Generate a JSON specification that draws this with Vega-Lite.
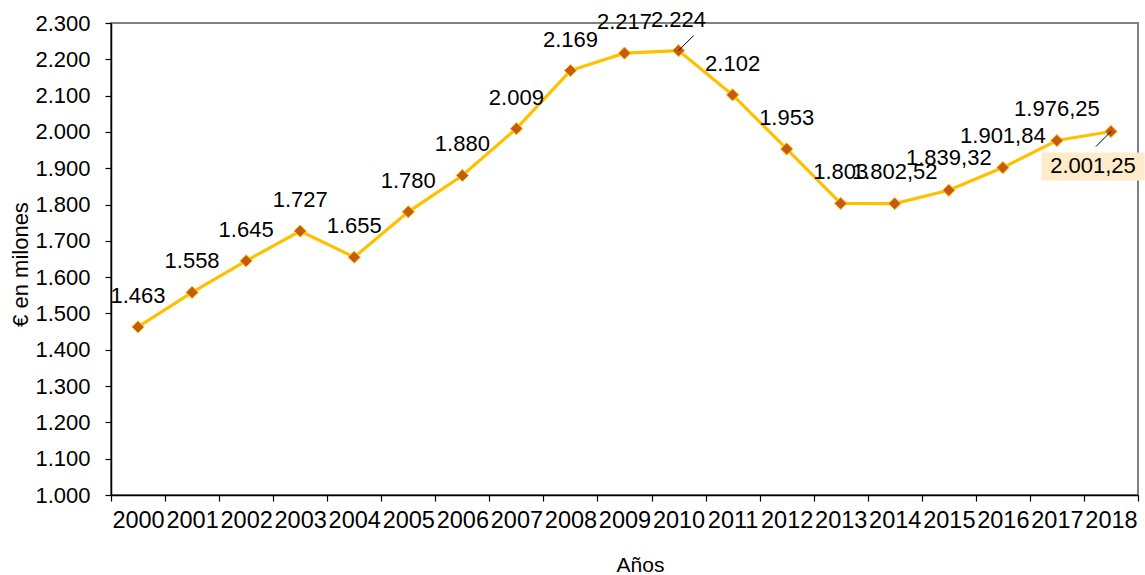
{
  "$schema": "https://vega.github.io/schema/vega-lite/v6.json",
  "autosize": "none",
  "width": 1027,
  "height": 472,
  "padding": {"left": 111, "top": 23, "right": 7, "bottom": 80},
  "background": "white",
  "config": {
    "locale": {"number": {"decimal": ",", "thousands": ".", "grouping": [3], "currency": ["", " €"]}},
    "font": "Liberation Sans",
    "view": {"stroke": "#808080", "strokeWidth": 2},
    "axis": {"grid": false, "domainColor": "#000000", "domainWidth": 1.5, "tickColor": "#000000", "tickWidth": 1.2, "tickSize": 6, "labelFont": "Liberation Sans", "labelFontSize": 22, "labelColor": "#000000", "titleFont": "Liberation Sans", "titleFontSize": 21, "titleFontWeight": "normal", "titleColor": "#000000"}
  },
  "data": {"values": [
    {"year": 2000, "value": 1463},
    {"year": 2001, "value": 1558},
    {"year": 2002, "value": 1645},
    {"year": 2003, "value": 1727},
    {"year": 2004, "value": 1655},
    {"year": 2005, "value": 1780},
    {"year": 2006, "value": 1880},
    {"year": 2007, "value": 2009},
    {"year": 2008, "value": 2169},
    {"year": 2009, "value": 2217},
    {"year": 2010, "value": 2224},
    {"year": 2011, "value": 2102},
    {"year": 2012, "value": 1953},
    {"year": 2013, "value": 1803},
    {"year": 2014, "value": 1802.52},
    {"year": 2015, "value": 1839.32},
    {"year": 2016, "value": 1901.84},
    {"year": 2017, "value": 1976.25},
    {"year": 2018, "value": 2001.25}
  ]},
  "encoding": {
    "x": {"field": "year", "type": "ordinal", "scale": {"paddingInner": 0, "paddingOuter": 0},
      "axis": {"title": "Años", "labelAngle": 0, "labelFontSize": 23.5, "tickBand": "extent", "labelPadding": 7, "titleX": 529, "titleY": 70, "titleBaseline": "middle", "titleAnchor": null}},
    "y": {"field": "value", "type": "quantitative", "scale": {"domain": [1000, 2300], "nice": false, "zero": false},
      "axis": {"title": "€ en milones", "titleFontSize": 22, "values": [1000, 1100, 1200, 1300, 1400, 1500, 1600, 1700, 1800, 1900, 2000, 2100, 2200, 2300], "format": ",.0f", "labelPadding": 15, "titleX": -91, "titleY": 241, "titleBaseline": "middle", "titleAnchor": null}}
  },
  "layer": [
    {"mark": {"type": "line", "color": "#FFC000", "strokeWidth": 3.2}},
    {"mark": {"type": "point", "shape": "diamond", "size": 150, "filled": true, "fill": "#C55A11", "stroke": "#FFC000", "strokeWidth": 1, "opacity": 1}},
    {"transform": [{"filter": "datum.year == 2010"}],
      "mark": {"type": "point", "shape": "M0,0L1,-1", "size": 900, "filled": false, "stroke": "#000000", "strokeWidth": 1, "opacity": 1}},
    {"transform": [{"filter": "datum.year == 2018"}],
      "mark": {"type": "point", "shape": "M0,0L-1,1", "size": 900, "filled": false, "stroke": "#000000", "strokeWidth": 1, "opacity": 1}},
    {"transform": [{"filter": "datum.year == 2018"}],
      "mark": {"type": "point", "shape": "M-1,-0.272L1,-0.272L1,0.272L-1,0.272Z", "size": 10609, "filled": true, "fill": "#FDEBC9", "strokeWidth": 0, "opacity": 1, "xOffset": -18, "yOffset": 35}},
    {"transform": [{"filter": "datum.year <= 2013"}],
      "mark": {"type": "text", "fontSize": 22, "font": "Liberation Sans", "color": "#000000", "baseline": "middle", "align": "center", "dy": -31},
      "encoding": {"text": {"field": "value", "type": "quantitative", "format": ",.0f"}}},
    {"transform": [{"filter": "datum.year >= 2014 && datum.year <= 2017"}],
      "mark": {"type": "text", "fontSize": 22, "font": "Liberation Sans", "color": "#000000", "baseline": "middle", "align": "center", "dy": -32},
      "encoding": {"text": {"field": "value", "type": "quantitative", "format": ",.2f"}}},
    {"transform": [{"filter": "datum.year == 2018"}],
      "mark": {"type": "text", "fontSize": 22, "font": "Liberation Sans", "color": "#000000", "baseline": "middle", "align": "center", "dx": -18, "dy": 35},
      "encoding": {"text": {"field": "value", "type": "quantitative", "format": ",.2f"}}}
  ]
}
